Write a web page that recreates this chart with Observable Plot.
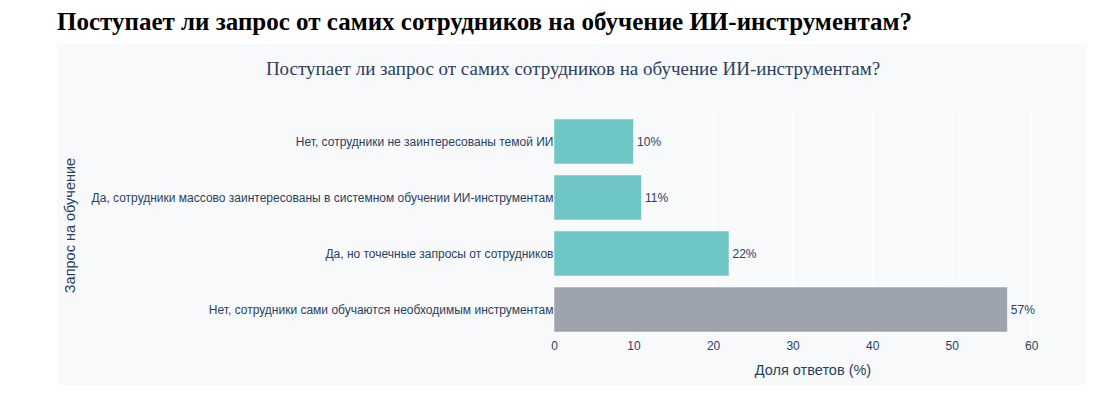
<!DOCTYPE html>
<html>
<head>
<meta charset="utf-8">
<script src="https://cdn.jsdelivr.net/npm/d3@7"></script>
<script src="https://cdn.jsdelivr.net/npm/@observablehq/plot@0.6"></script>
<style>
  body { margin: 0; background: #ffffff; width: 1116px; height: 396px; position: relative; overflow: hidden; }
  #page-title { position: absolute; left: 57px; top: 8px; margin: 0; font-family: "Liberation Serif", "Times New Roman", serif; font-weight: bold; font-size: 25px; color: #000; white-space: nowrap; }
  #chart { position: absolute; left: 57px; top: 44px; width: 1030px; height: 341px; background: #f8f9fb; }
</style>
</head>
<body>
<h2 id="page-title">Поступает ли запрос от самих сотрудников на обучение ИИ-инструментам?</h2>
<div id="chart"></div>
<script>
const categories = [
  "Нет, сотрудники не заинтересованы темой ИИ",
  "Да, сотрудники массово заинтересованы в системном обучении ИИ-инструментам",
  "Да, но точечные запросы от сотрудников",
  "Нет, сотрудники сами обучаются необходимым инструментам"
];
const values = [10, 11, 22, 57];
const barColors = ["#6ec6c5", "#6ec6c5", "#6ec6c5", "#9ca3af"];
const xTicks = [0, 10, 20, 30, 40, 50, 60];
const gridTicks = [10, 20, 30, 40, 50, 60];
const chartTitle = "Поступает ли запрос от самих сотрудников на обучение ИИ-инструментам?";
const xLabel = "Доля ответов (%)";
const yLabel = "Запрос на обучение";

const data = categories.map((c, i) => ({category: c, value: values[i], color: barColors[i]}));
const textColor = "#2a3f5f";

const chart = Plot.plot({
  width: 1030,
  height: 341,
  marginLeft: 497,
  marginRight: 16,
  marginTop: 68,
  marginBottom: 47,
  style: {background: "transparent", fontFamily: "'Liberation Sans', Arial, sans-serif", fontSize: "12px", color: textColor},
  x: {domain: [0, 65], ticks: xTicks, tickSize: 0, tickPadding: 3, label: null},
  y: {domain: categories, paddingInner: 0.2, paddingOuter: 0.1, tickSize: 0, tickPadding: 1, label: null},
  marks: [
    Plot.ruleX(gridTicks, {stroke: "#ffffff", strokeWidth: 1}),
    Plot.barX(data, {y: "category", x: "value", fill: "color", stroke: "#ffffff", strokeOpacity: 0.5, strokeWidth: 1}),
    Plot.text(data, {y: "category", x: "value", text: d => d.value + "%", textAnchor: "start", dx: 3, fill: textColor, fontSize: 12}),
    Plot.text([chartTitle], {frameAnchor: "top", textAnchor: "middle", dx: -240, dy: -51, text: d => d, fontFamily: "'Liberation Serif', 'Times New Roman', serif", fontSize: 19, fill: textColor}),
    Plot.text([xLabel], {frameAnchor: "bottom", textAnchor: "middle", dy: 36, text: d => d, fontSize: 14.5, fill: textColor}),
    Plot.text([yLabel], {frameAnchor: "left", textAnchor: "middle", dx: -484, rotate: -90, text: d => d, fontSize: 14.5, fill: textColor})
  ]
});
document.getElementById("chart").appendChild(chart);
</script>
</body>
</html>
